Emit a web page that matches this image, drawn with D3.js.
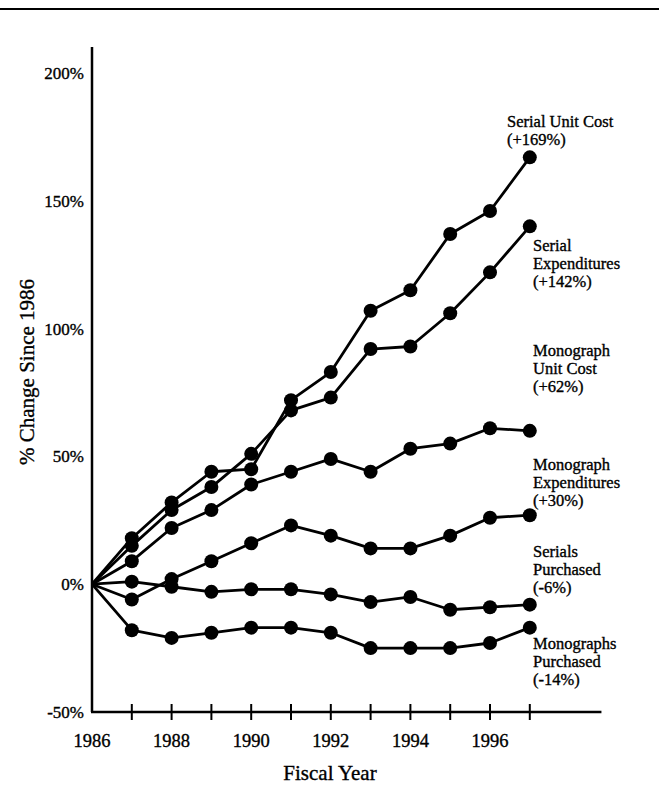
<!DOCTYPE html>
<html>
<head>
<meta charset="utf-8">
<script src="https://cdn.jsdelivr.net/npm/d3@7"></script>
<style>
  body { margin: 0; background: #fff; }
  text { font-family: "Liberation Serif", "DejaVu Serif", serif; fill: #000; stroke: #000; stroke-width: 0.35px; }
</style>
</head>
<body>
<div id="chart"></div>
<script>
// Values (% change since 1986)
var years = [1986, 1987, 1988, 1989, 1990, 1991, 1992, 1993, 1994, 1995, 1996, 1997];
var serialUnitCost      = [0, 18, 32, 44, 45, 72, 83, 107, 115, 137, 146, 167];
var serialExpenditures  = [0, 15, 29, 38, 51, 68, 73, 92, 93, 106, 122, 140];
var monoUnitCost        = [0, 9, 22, 29, 39, 44, 49, 44, 53, 55, 61, 60];
var monoExpenditures    = [0, -6, 2, 9, 16, 23, 19, 14, 14, 19, 26, 27];
var serialsPurchased    = [0, 1, -1, -3, -2, -2, -4, -7, -5, -10, -9, -8];
var monosPurchased      = [0, -18, -21, -19, -17, -17, -19, -25, -25, -25, -23, -17];

var seriesLabels = [
  ["Serial Unit Cost", "(+169%)"],
  ["Serial", "Expenditures", "(+142%)"],
  ["Monograph", "Unit Cost", "(+62%)"],
  ["Monograph", "Expenditures", "(+30%)"],
  ["Serials", "Purchased", "(-6%)"],
  ["Monographs", "Purchased", "(-14%)"]
];
var yTicks = [-50, 0, 50, 100, 150, 200];
var yearLabels = [1986, 1988, 1990, 1992, 1994, 1996];

var series = [serialUnitCost, serialExpenditures, monoUnitCost,
              monoExpenditures, serialsPurchased, monosPurchased];

var svgWidth = 659;
var svgHeight = 801;

var svg = d3.select("#chart")
  .append("svg")
  .attr("width", svgWidth)
  .attr("height", svgHeight);

// scales
var x = d3.scaleLinear().domain([1986, 1996]).range([92, 490]);
var y = d3.scaleLinear().domain([-50, 200]).range([712, 73]);

// rule at top of page
svg.append("line")
  .attr("x1", 0).attr("x2", svgWidth)
  .attr("y1", 9).attr("y2", 9)
  .attr("stroke", "#000").attr("stroke-width", 2);

// y axis line
svg.append("line")
  .attr("x1", x(1986)).attr("x2", x(1986))
  .attr("y1", 47).attr("y2", y(-50))
  .attr("stroke", "#000").attr("stroke-width", 2.5);

// x axis line
svg.append("line")
  .attr("x1", x(1986) - 1).attr("x2", x(1998.8))
  .attr("y1", y(-50)).attr("y2", y(-50))
  .attr("stroke", "#000").attr("stroke-width", 2.5);

// year ticks crossing the axis
svg.append("g").selectAll("line")
  .data(years.slice(1))
  .enter()
  .append("line")
  .attr("x1", d => x(d)).attr("x2", d => x(d))
  .attr("y1", y(-50) - 8).attr("y2", y(-50) + 8)
  .attr("stroke", "#000").attr("stroke-width", 2);

// y tick labels
svg.append("g").selectAll("text")
  .data(yTicks)
  .enter()
  .append("text")
  .attr("x", x(1986) - 8)
  .attr("y", d => y(d))
  .attr("dy", "0.35em")
  .attr("text-anchor", "end")
  .attr("font-size", "17px")
  .text(d => d + "%");

// x tick labels
svg.append("g").selectAll("text")
  .data(yearLabels)
  .enter()
  .append("text")
  .attr("x", d => x(d))
  .attr("y", 747)
  .attr("text-anchor", "middle")
  .attr("font-size", "18.5px")
  .text(d => d);

// axis titles
svg.append("text")
  .attr("x", 330)
  .attr("y", 780)
  .attr("text-anchor", "middle")
  .attr("font-size", "21px")
  .text("Fiscal Year");

svg.append("text")
  .attr("transform", "translate(34, 372) rotate(-90)")
  .attr("text-anchor", "middle")
  .attr("font-size", "21px")
  .text("% Change Since 1986");

// lines
var line = d3.line()
  .x((d, i) => x(years[i]))
  .y(d => y(d));

svg.append("g").selectAll("path")
  .data(series)
  .enter()
  .append("path")
  .attr("d", d => line(d))
  .attr("fill", "none")
  .attr("stroke", "#000")
  .attr("stroke-width", 2.8)
  .attr("stroke-linejoin", "round");

// markers (none at the 1986 origin)
series.forEach(function(s) {
  svg.append("g").selectAll("circle")
    .data(s.slice(1))
    .enter()
    .append("circle")
    .attr("cx", (d, i) => x(years[i + 1]))
    .attr("cy", d => y(d))
    .attr("r", 7)
    .attr("fill", "#000");
});

// series labels
var labelPos = [
  {x: 507, y: 127},
  {x: 533, y: 251},
  {x: 533, y: 356},
  {x: 533, y: 470},
  {x: 533, y: 557},
  {x: 533, y: 649}
];

seriesLabels.forEach(function(lines, k) {
  var t = svg.append("text")
    .attr("x", labelPos[k].x)
    .attr("y", labelPos[k].y)
    .attr("font-size", "16.5px");
  lines.forEach(function(l, j) {
    t.append("tspan")
      .attr("x", labelPos[k].x)
      .attr("dy", j == 0 ? 0 : 18)
      .text(l);
  });
});
</script>
</body>
</html>
